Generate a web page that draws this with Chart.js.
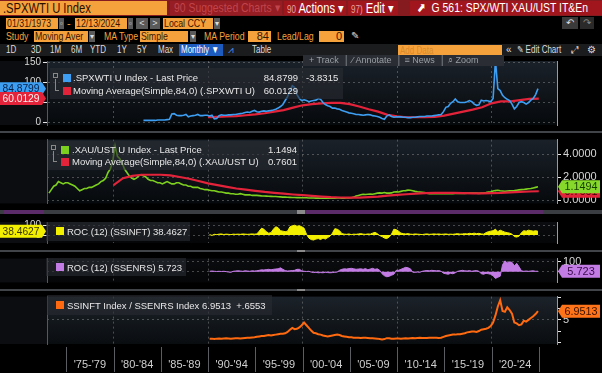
<!DOCTYPE html>
<html>
<head>
<meta charset="utf-8">
<title>G 561: SPX/WTI XAU/UST IT&amp;En</title>
<script src="https://cdn.jsdelivr.net/npm/chart.js@4.4.1/dist/chart.umd.min.js"></script>
<style>
  html, body { margin: 0; padding: 0; background: #000; }
  body { position: relative; width: 602px; height: 373px; overflow: hidden;
         font-family: "Liberation Sans", Arial, sans-serif; }
  .a { position: absolute; white-space: nowrap; box-sizing: border-box; overflow: visible; }
  .n { display: inline-block; transform: scaleX(0.8); transform-origin: 0 50%; }
  canvas { position: absolute; left: 0; }
  .ob { background: #f6a23c; color: #3a1500; font-size: 11px; line-height: 11px; padding-left: 1px; }
  .ot { color: #f6a23c; font-size: 11px; line-height: 11px; }
  .dd { background: #5a5a5a; color: #ddd; font-size: 8px; line-height: 11px; text-align: center; }
  .tb { color: #dcdcdc; font-size: 10px; line-height: 12px; }
  .lg { background: rgba(40,44,50,0.62); }
  .lt { color: #e8e8e8; font-size: 9.5px; line-height: 11px; }
  .sq { width: 8px; height: 8px; }
  .sep { background: #414449; }
</style>
</head>
<body>

<!-- title row -->
<div class="a" style="left:0;top:0;width:602px;height:16px;background:#851a1f"></div>
<div class="a" style="left:0;top:1px;width:167px;height:14px;background:#f6a23c;color:#2a0e00;font-size:14px;line-height:14px;padding-left:3px"><span class="n">.SPXWTI U Index</span></div>
<div class="a" style="left:170px;top:1px;width:112px;height:14px;background:#951d23;color:#c2444a;font-size:13px;line-height:14px;padding-left:4px"><span class="n">90 Suggested Charts ▾</span></div>
<div class="a" style="left:284px;top:1px;width:62px;height:14px;background:#a1161d;color:#fff;font-size:14px;line-height:14px;padding-left:3px"><span class="n"><span style="font-size:10px;color:#e9a3a3">90</span> Actions ▾</span></div>
<div class="a" style="left:348px;top:1px;width:50px;height:14px;background:#a1161d;color:#fff;font-size:14px;line-height:14px;padding-left:3px"><span class="n"><span style="font-size:10px;color:#e9a3a3">97)</span> Edit ▾</span></div>
<div class="a" style="left:410px;top:1px;width:192px;height:14px;background:#a1161d;color:#fff;font-size:13px;line-height:14px;padding-left:7px"><span class="n">⬈ &nbsp;G 561: SPX/WTI XAU/UST IT&amp;En</span></div>

<!-- date row -->
<div class="a ob" style="left:6px;top:18px;width:52px;height:11px"><span class="n">01/31/1973</span></div>
<div class="a dd" style="left:59px;top:18px;width:5px;height:11px">▫</div>
<div class="a ot" style="left:67px;top:18px">-</div>
<div class="a ob" style="left:75px;top:18px;width:52px;height:11px"><span class="n">12/13/2024</span></div>
<div class="a dd" style="left:128px;top:18px;width:5px;height:11px">▫</div>
<div class="a dd" style="left:136px;top:18px;width:12px;height:11px;font-size:9px">&lt;</div>
<div class="a dd" style="left:150px;top:18px;width:10px;height:11px;font-size:9px">&gt;</div>
<div class="a ob" style="left:163px;top:18px;width:50px;height:11px"><span class="n">Local CCY</span></div>
<div class="a dd" style="left:214px;top:18px;width:6px;height:11px">▾</div>
<div class="a" style="left:562px;top:17px;width:16px;height:12px;background:#3a3a3a;color:#ddd;font-size:10px;line-height:12px;text-align:center">↶</div>
<div class="a" style="left:580px;top:17px;width:14px;height:12px;background:#2a2a2a;color:#888;font-size:10px;line-height:12px;text-align:center">↷</div>

<!-- study row -->
<div class="a ot" style="left:6px;top:31px"><span class="n">Study</span></div>
<div class="a ob" style="left:34px;top:31px;width:54px;height:11px"><span class="n">Moving Aver</span></div>
<div class="a dd" style="left:89px;top:31px;width:6px;height:11px">▾</div>
<div class="a ot" style="left:104px;top:31px"><span class="n">MA Type</span></div>
<div class="a ob" style="left:140px;top:31px;width:48px;height:11px"><span class="n">Simple</span></div>
<div class="a dd" style="left:190px;top:31px;width:6px;height:11px">▾</div>
<div class="a ot" style="left:204px;top:31px"><span class="n">MA Period</span></div>
<div class="a ob" style="left:248px;top:31px;width:23px;height:11px;text-align:right;padding-right:2px">84</div>
<div class="a ot" style="left:277px;top:31px"><span class="n">Lead/Lag</span></div>
<div class="a ob" style="left:319px;top:31px;width:25px;height:11px;text-align:right;padding-right:2px">0</div>
<div class="a" style="left:351px;top:30px;color:#ddd;font-size:10px">✎</div>

<!-- toolbar row -->
<div class="a" style="left:0;top:44px;width:602px;height:12px;background:#1b1c1e"></div>
<div class="a tb" style="left:6px;top:44px"><span class="n">1D</span></div>
<div class="a tb" style="left:31px;top:44px"><span class="n">3D</span></div>
<div class="a tb" style="left:50px;top:44px"><span class="n">1M</span></div>
<div class="a tb" style="left:71px;top:44px"><span class="n">6M</span></div>
<div class="a tb" style="left:90px;top:44px"><span class="n">YTD</span></div>
<div class="a tb" style="left:117px;top:44px"><span class="n">1Y</span></div>
<div class="a tb" style="left:137px;top:44px"><span class="n">5Y</span></div>
<div class="a tb" style="left:158px;top:44px"><span class="n">Max</span></div>
<div class="a tb" style="left:179px;top:44px;width:44px;height:12px;background:#1d5bbf;color:#fff;padding-left:2px"><span class="n">Monthly ▼</span></div>
<div class="a tb" style="left:228px;top:44px;color:#4a8ee8">⩘</div>
<div class="a tb" style="left:252px;top:44px"><span class="n">Table</span></div>
<div class="a" style="left:398px;top:45px;width:104px;height:11px;background:#f6a23c;color:#d88a2a;font-size:10px;line-height:11px;padding-left:2px"><span class="n">Add Data</span></div>
<div class="a tb" style="left:506px;top:44px">«</div>
<div class="a tb" style="left:517px;top:44px"><span class="n">✎ Edit Chart</span></div>
<div class="a tb" style="left:571px;top:44px">⤢</div>
<div class="a tb" style="left:587px;top:44px">⚙</div>

<canvas id="c1" width="602" height="80" style="top:53px"></canvas>
<canvas id="c2" width="602" height="81" style="top:131px"></canvas>
<canvas id="c3" width="602" height="37" style="top:214px"></canvas>
<canvas id="c4" width="602" height="41" style="top:250px"></canvas>
<canvas id="c5" width="602" height="85" style="top:288px"></canvas>

<!-- panel separators -->
<div class="a sep" style="left:0;top:131px;width:602px;height:2px"></div>
<div class="a" style="left:0;top:210px;width:602px;height:4px;background:#3a3d42"></div>
<div class="a" style="left:4px;top:210px;width:40px;height:4px;background:#5b2a68"></div>
<div class="a" style="left:297px;top:210px;width:246px;height:4px;background:#5b2a68"></div>
<div class="a" style="left:297px;top:210px;width:8px;height:4px;background:#8a8a8a"></div>
<div class="a sep" style="left:0;top:250px;width:602px;height:2px"></div>
<div class="a" style="left:297px;top:250px;width:8px;height:2px;background:#8a8a8a"></div>
<div class="a sep" style="left:0;top:289px;width:602px;height:2px"></div>
<div class="a" style="left:297px;top:289px;width:8px;height:2px;background:#8a8a8a"></div>

<!-- track bar -->
<div class="a" style="left:303px;top:55px;width:201px;height:11px;background:#2a2e34;color:#9a9fa6;font-size:9px;line-height:11px;padding-left:6px">+ Track &nbsp;│ ⁄ Annotate &nbsp;│ ≡ News &nbsp;│ ⌕ Zoom</div>

<!-- legends -->
<div class="a lg" style="left:50px;top:68px;width:293px;height:31px"></div>
<div class="a" style="left:53px;top:73px;width:5px;height:5px;border:1px solid #888"></div>
<div class="a" style="left:55px;top:79px;width:4px;height:12px;border-left:1px solid #888;border-bottom:1px solid #888"></div>
<div class="a sq" style="left:63px;top:74px;background:#3d9ef2"></div>
<div class="a lt" style="left:73px;top:72px">.SPXWTI U Index - Last Price</div>
<div class="a lt" style="left:248px;top:72px;width:50px;text-align:right">84.8799</div>
<div class="a lt" style="left:306px;top:72px">-3.8315</div>
<div class="a sq" style="left:63px;top:87px;background:#e3233a"></div>
<div class="a lt" style="left:73px;top:85px">Moving Average(Simple,84,0) (.SPXWTI U)</div>
<div class="a lt" style="left:248px;top:85px;width:50px;text-align:right">60.0129</div>

<div class="a lg" style="left:48px;top:141px;width:251px;height:29px"></div>
<div class="a" style="left:51px;top:145px;width:5px;height:5px;border:1px solid #888"></div>
<div class="a" style="left:53px;top:151px;width:4px;height:11px;border-left:1px solid #888;border-bottom:1px solid #888"></div>
<div class="a sq" style="left:61px;top:146px;background:#7ccf1e"></div>
<div class="a lt" style="left:72px;top:144px">.XAU/UST U Index - Last Price</div>
<div class="a lt" style="left:247px;top:144px;width:50px;text-align:right">1.1494</div>
<div class="a sq" style="left:61px;top:158px;background:#e3233a"></div>
<div class="a lt" style="left:72px;top:156px">Moving Average(Simple,84,0) (.XAU/UST U)</div>
<div class="a lt" style="left:247px;top:156px;width:50px;text-align:right">0.7601</div>

<div class="a lg" style="left:46px;top:222px;width:144px;height:19px"></div>
<div class="a sq" style="left:56px;top:227px;background:#f2ef00"></div>
<div class="a lt" style="left:67px;top:226px">ROC (12) (SSINFT) 38.4627</div>

<div class="a lg" style="left:46px;top:258px;width:140px;height:18px"></div>
<div class="a sq" style="left:56px;top:263px;background:#c27ce4"></div>
<div class="a lt" style="left:67px;top:262px">ROC (12) (SSENRS) 5.723</div>

<div class="a lg" style="left:47px;top:295px;width:225px;height:20px"></div>
<div class="a sq" style="left:56px;top:301px;background:#ff6a10"></div>
<div class="a lt" style="left:67px;top:300px">SSINFT Index / SSENRS Index 6.9513 &nbsp;+.6553</div>

<script>
// ---- time axis ----
var xMin = 1972.96, xMax = 2026.93;
var gridYears = [1980, 1990, 2000, 2010, 2020];
var sepYears = [1975, 1980, 1985, 1990, 1995, 2000, 2005, 2010, 2015, 2020, 2025];
var periodStarts = [1975, 1980, 1985, 1990, 1995, 2000, 2005, 2010, 2015, 2020];
var periodLabels = ["'75-'79", "'80-'84", "'85-'89", "'90-'94", "'95-'99", "'00-'04", "'05-'09", "'10-'14", "'15-'19", "'20-'24"];

// ---- .SPXWTI U Index, quarterly from 1983 ----
var spxStart = 1983;
var spxVals = [
  5,5,5,5, 5,5,6,6, 6,6,7,8, 21,22,18,17, 17,18,20,14, 16,17,18,20, 17,17,18,18,
  16,18,9,10, 17,19,18,18, 19,19,20,20, 21,22,23,25, 26,25,28,30, 27,26,28,29,
  28,29,30,31, 33,36,40,45, 55,65,80,92, 88,70,60,55, 57,55,52,54, 55,56,60,58,
  50,45,42,40, 36,36,34,33, 30,28,26,24, 23,22,20,20, 19,18,19,20, 19,17,16,15,
  13,10,8,16, 19,15,13,14, 14,14,13,13, 12,12,13,13, 14,15,15,15, 16,16,16,17,
  18,19,20,27, 38,40,48,52, 59,52,50,50, 50,52,55,52, 46,43,44,56, 54,55,54,52,
  60,155,85,80, 68,62,58,55, 46,34,40,50, 52,50,46,50, 56,60,70,84.8799
];
// 84-month simple moving average, yearly from 1990
var spxMaStart = 1990;
var spxMaVals = [13,14,15,16,18,20,23,27,31,37,43,46,48,49,49,46,40,33,27,19,15,13,13,13,14,17,22,27,32,38,48,53,53,56,59,60.0129];

// ---- .XAU/UST U Index, quarterly from 1973 ----
var xauStart = 1973;
var xauVals = [
  0.6,0.9,1.2,1.3, 1.6,1.5,1.4,1.5, 1.5,1.4,1.3,1.2, 1.0,0.8,0.9,1.0, 1.0,1.1,1.1,1.2,
  1.3,1.4,1.6,1.7, 1.9,2.4,2.7,3.4, 4.7,3.8,3.6,3.2, 2.7,2.4,2.1,1.9, 1.8,1.9,2.1,2.2,
  2.1,2.0,1.8,1.7, 1.7,1.6,1.5,1.5, 1.4,1.5,1.6,1.5, 1.4,1.4,1.5,1.5, 1.4,1.3,1.3,1.2,
  1.2,1.1,1.1,1.1, 1.0,0.95,0.9,0.9, 0.85,0.8,0.8,0.75, 0.7,0.7,0.65,0.6, 0.6,0.55,0.55,0.5,
  0.5,0.55,0.5,0.45, 0.45,0.45,0.4,0.4, 0.4,0.38,0.36,0.35, 0.34,0.33,0.32,0.3, 0.3,0.28,0.27,0.25,
  0.25,0.24,0.23,0.22, 0.22,0.21,0.22,0.2, 0.2,0.19,0.18,0.18, 0.17,0.16,0.16,0.15, 0.15,0.15,0.16,0.16,
  0.16,0.16,0.17,0.17, 0.16,0.16,0.17,0.18, 0.2,0.25,0.35,0.4, 0.45,0.5,0.48,0.5, 0.52,0.5,0.55,0.6,
  0.62,0.6,0.65,0.6, 0.6,0.62,0.7,0.72, 0.7,0.75,0.8,0.82, 0.86,0.85,0.8,0.75, 0.72,0.7,0.68,0.65,
  0.6,0.55,0.56,0.55, 0.55,0.56,0.55,0.55, 0.55,0.56,0.54,0.55, 0.56,0.58,0.6,0.58, 0.58,0.6,0.6,0.6,
  0.6,0.6,0.58,0.6, 0.62,0.65,0.7,0.72, 0.78,0.82,0.85,0.8, 0.78,0.76,0.78,0.8, 0.8,0.82,0.85,0.88,
  0.9,0.92,0.95,0.98, 1.0,1.05,1.1,1.1494
];
var xauMaStart = 1980;
var xauMaVals = [1.3,1.9,2.1,2.2,2.2,2.2,2.15,2.0,1.85,1.65,1.45,1.3,1.15,1.0,0.9,0.8,0.7,0.62,0.55,0.48,0.42,0.36,0.3,0.25,0.22,0.2,0.2,0.25,0.3,0.38,0.45,0.5,0.55,0.6,0.62,0.63,0.62,0.6,0.58,0.58,0.6,0.62,0.66,0.7,0.74,0.7601];

// ---- ROC (12) SSINFT, quarterly from 1990 ----
var rocStart = 1990;
var rocInft = [
  5,-3,8,5, 10,12,6,10, 8,5,10,8, 10,8,12,10, 8,10,12,10, 12,40,70,60, 35,20,25,60,
  85,75,45,40, 35,40,85,95, 100,90,95,85, 70,10,-30,-45, -50,-40,-35,-45, -30,-40,-25,-10,
  20,65,60,45, 15,10,8,12, 5,10,8,12, 15,10,8,12, 10,20,28,15, -5,-15,-30,-35,
  -20,10,60,55, 40,20,15,12, 15,10,8,12, 10,8,5,10, 12,8,10,12, 10,12,8,10, 12,8,10,8,
  12,15,10,12, 15,12,18,15, 20,15,18,12, 10,25,35,40, 45,60,35,50, 40,30,25,20,
  10,-15,-20,-10, 25,45,40,50, 45,40,45,38.4627
];
// ---- ROC (12) SSENRS, quarterly from 1990 ----
var rocEnrs = [
  5,8,5,3, 5,3,5,2, -3,-5,5,8, 10,8,5,10, 8,5,10,8, 10,15,20,18, 22,25,20,25,
  28,30,40,25, 12,8,10,12, 15,25,25,10, 5,3,5,-3, -8,-5,-10,-8, -10,-5,-8,-10,
  -8,-5,-3,15, 25,30,28,32, 35,30,25,28, 30,25,32,20, 28,35,25,30, 15,-20,-40,-50,
  -45,-35,-25,15, 15,25,35,45, 40,30,-5,-5, -3,-5,5,10, 12,10,15,12, 10,12,5,-15,
  -20,-25,-15,-20, -10,5,10,15, 10,8,12,5, 10,12,5,-20, -25,-15,-20,-25, -40,-67,-55,-45,
  70,110,90,100, 95,60,85,50, 10,5,8,5, 8,10,5,5.723
];
// ---- SSINFT Index / SSENRS Index, quarterly from 1990 ----
var ratioVals = [
  0.8,0.8,0.7,0.8, 0.85,0.8,0.85,0.9, 0.85,0.8,0.85,0.9, 0.9,0.85,0.9,0.95, 1.0,1.0,1.05,1.1,
  1.2,1.3,1.4,1.4, 1.5,1.6,1.5,1.6, 1.7,1.8,1.9,1.9, 2.0,2.3,2.8,3.2, 2.9,3.0,3.3,3.8,
  4.4,3.8,3.2,2.6, 2.1,2.0,1.8,1.7, 1.5,1.4,1.3,1.4, 1.5,1.6,1.7,1.6, 1.4,1.3,1.2,1.1,
  1.1,1.0,1.0,1.0, 0.95,1.0,1.0,0.95, 0.9,0.9,0.85,0.8, 0.7,0.6,0.7,0.9, 0.9,0.8,0.8,0.85,
  0.85,0.8,0.85,0.9, 0.85,0.9,0.95,0.9, 0.95,1.0,0.95,0.95, 0.95,1.0,1.0,1.0, 1.0,0.95,1.0,1.2,
  1.4,1.5,1.6,1.7, 1.7,1.8,1.8,1.9, 2.0,2.2,2.3,2.4, 2.4,2.3,2.5,2.8, 2.9,3.0,3.2,3.6,
  4.4,6.0,8.0,9.4, 7.0,6.8,7.8,7.2, 6.4,4.4,4.2,3.8, 4.0,4.8,4.6,5.0, 5.4,5.8,6.3,6.9513
];

function quarterly(start, vals) {
  return vals.map(function (v, i) { return { x: start + (i * 3 + 2) / 12, y: v }; });
}
function yearly(start, vals) {
  return vals.map(function (v, i) { return { x: start + i, y: v }; });
}

Chart.defaults.font.family = '"Liberation Sans", Arial, sans-serif';
Chart.defaults.font.size = 10;
Chart.defaults.color = '#d6d6d6';
Chart.defaults.animation = false;

var dotted = 'rgba(150,150,150,0.45)';

// dark gradient behind each plot area
var panelBg = {
  id: 'panelBg',
  beforeDraw: function (chart, args, opts) {
    var a = chart.chartArea, c = chart.ctx;
    var g = c.createLinearGradient(0, a.top, 0, a.bottom);
    g.addColorStop(0, opts.top || '#1a2129');
    g.addColorStop(1, opts.bottom || '#06090c');
    c.save();
    c.fillStyle = '#0b0d10';
    c.fillRect(0, a.top, a.left, a.bottom - a.top);
    c.fillStyle = g;
    c.fillRect(a.left, a.top, a.right - a.left, a.bottom - a.top);
    c.restore();
  }
};

// last value tags at the axis
var valueTags = {
  id: 'valueTags',
  afterDraw: function (chart, args, opts) {
    var c = chart.ctx, a = chart.chartArea;
    (opts.items || []).forEach(function (t) {
      var y = chart.scales[t.axis].getPixelForValue(t.value);
      var h = 13, w = t.w || 38, tip, x0, x1;
      c.save();
      c.fillStyle = t.bg;
      c.beginPath();
      if (t.side === 'left') {
        tip = a.left - 1; x1 = tip - 4; x0 = x1 - w;
        c.moveTo(tip, y); c.lineTo(x1, y - h / 2); c.lineTo(x0, y - h / 2);
        c.lineTo(x0, y + h / 2); c.lineTo(x1, y + h / 2);
      } else {
        tip = a.right + 1; x0 = tip + 4; x1 = x0 + w;
        c.moveTo(tip, y); c.lineTo(x0, y - h / 2); c.lineTo(x1, y - h / 2);
        c.lineTo(x1, y + h / 2); c.lineTo(x0, y + h / 2);
      }
      c.closePath();
      c.fill();
      c.fillStyle = t.fg;
      c.font = '11px "Liberation Sans", Arial, sans-serif';
      c.textAlign = 'center';
      c.textBaseline = 'middle';
      c.fillText(t.value.toFixed(t.dec), (x0 + x1) / 2, y + 0.5, w - 5);
      c.restore();
    });
  }
};

// separators between the period labels
var periodSeps = {
  id: 'periodSeps',
  afterDraw: function (chart) {
    var c = chart.ctx, a = chart.chartArea, s = chart.scales.x;
    c.save();
    c.strokeStyle = '#5a5d62';
    c.lineWidth = 1;
    sepYears.forEach(function (yr) {
      var px = Math.round(s.getPixelForValue(yr)) + 0.5;
      c.beginPath(); c.moveTo(px, a.bottom + 3); c.lineTo(px, chart.height - 1); c.stroke();
    });
    c.restore();
  }
};

function xAxes(showLabels) {
  var axes = {
    x: { type: 'linear', min: xMin, max: xMax, display: false },
    xg: {
      type: 'linear', min: xMin, max: xMax, position: 'bottom',
      ticks: { display: false },
      grid: { color: dotted, drawTicks: false },
      border: { display: false, dash: [2, 3] },
      afterBuildTicks: function (s) { s.ticks = gridYears.map(function (v) { return { value: v }; }); },
      afterFit: function (s) { s.height = 0; }
    }
  };
  if (showLabels) {
    axes.x = {
      type: 'linear', min: xMin, max: xMax, position: 'bottom',
      grid: { display: false }, border: { display: false },
      ticks: {
        autoSkip: false, maxRotation: 0, padding: 6, color: '#d0d0d0', font: { size: 11 },
        callback: function (v, i) { return periodLabels[i]; }
      },
      afterBuildTicks: function (s) { s.ticks = periodStarts.map(function (v) { return { value: v + 2.5 }; }); },
      afterFit: function (s) { s.height = 29; }
    };
  }
  return axes;
}

function yAxis(pos, min, max, ticks, labelFn, gridOn, fontSize) {
  return {
    type: 'linear', position: pos, min: min, max: max,
    grid: { drawOnChartArea: gridOn, color: dotted, tickColor: '#e6e6e6', tickLength: 4 },
    border: { display: true, color: pos === 'right' ? '#9a9a9a' : '#55585d', dash: [2, 3] },
    ticks: { autoSkip: false, padding: 2, color: '#d6d6d6', font: { size: fontSize || 10 }, callback: labelFn },
    afterBuildTicks: function (s) { s.ticks = ticks.map(function (v) { return { value: v }; }); },
    afterFit: function (s) { s.width = pos === 'left' ? 47 : 45; }
  };
}

function lineSet(data, color, width, yId, fill) {
  return {
    data: data, borderColor: color, backgroundColor: color, borderWidth: width,
    pointRadius: 0, tension: 0, fill: fill ? 'origin' : false, xAxisID: 'x', yAxisID: yId
  };
}

function panel(id, datasets, scales, pad, bg, tags, extra) {
  return new Chart(document.getElementById(id), {
    type: 'line',
    data: { datasets: datasets },
    options: {
      responsive: false,
      parsing: false,
      layout: { padding: pad },
      scales: scales,
      plugins: {
        legend: { display: false }, tooltip: { enabled: false },
        panelBg: bg, valueTags: { items: tags }
      }
    },
    plugins: [panelBg, valueTags].concat(extra || [])
  });
}

function none() { return ''; }

// panel 1: .SPXWTI with its moving average
var s1 = xAxes(false);
s1.y = yAxis('left', -6.5, 154.3, [0, 50, 100, 150], function (v) { return v; }, true);
s1.yr = yAxis('right', -6.5, 154.3, [], none, false);
panel('c1', [
  lineSet(quarterly(spxStart, spxVals), '#3d9ef2', 1.6, 'y'),
  lineSet(yearly(spxMaStart, spxMaVals), '#e3233a', 2.2, 'y')
], s1, { top: 3, bottom: 3 }, {}, [
  { axis: 'y', value: 84.8799, dec: 4, side: 'left', bg: '#3d9ef2', fg: '#06204a', w: 42 },
  { axis: 'y', value: 60.0129, dec: 4, side: 'left', bg: '#e3233a', fg: '#fff2f2', w: 42 }
]);

// panel 2: .XAU/UST with its moving average
var s2 = xAxes(false);
s2.yl = yAxis('left', -0.296, 5.26, [], none, false);
s2.y = yAxis('right', -0.296, 5.26, [0, 2, 4], function (v) { return v.toFixed(4); }, true, 11);
panel('c2', [
  lineSet(yearly(xauMaStart, xauMaVals), '#e3233a', 2.2, 'y'),
  lineSet(quarterly(xauStart, xauVals), '#7ccf1e', 1.6, 'y')
], s2, { top: 3, bottom: 3 }, {}, [
  { axis: 'y', value: 0.7601, dec: 4, side: 'right', bg: '#e3233a', fg: '#3a0008' },
  { axis: 'y', value: 1.1494, dec: 4, side: 'right', bg: '#86d82a', fg: '#163d00' }
]);

// panel 3: ROC (12) SSINFT
var s3 = xAxes(false);
s3.y = yAxis('left', -80, 133, [0, 100], function (v) { return v; }, true);
s3.yr = yAxis('right', -80, 133, [], none, false);
panel('c3', [
  lineSet(quarterly(rocStart, rocInft), '#f2ef00', 1, 'y', true)
], s3, { top: 3, bottom: 2 }, { top: '#0a0c0f', bottom: '#050607' }, [
  { axis: 'y', value: 38.4627, dec: 4, side: 'left', bg: '#f2ef00', fg: '#3a3600', w: 42 }
]);

// panel 4: ROC (12) SSENRS
var s4 = xAxes(false);
s4.yl = yAxis('left', -107, 133, [], none, false);
s4.y = yAxis('right', -107, 133, [0, 100], function (v) { return v; }, true, 11);
panel('c4', [
  lineSet(quarterly(rocStart, rocEnrs), '#c27ce4', 1, 'y', true)
], s4, { top: 3, bottom: 2 }, { top: '#0a0c0f', bottom: '#050607' }, [
  { axis: 'y', value: 5.723, dec: 3, side: 'right', bg: '#c27ce4', fg: '#3a0a4a' }
]);

// panel 5: SSINFT / SSENRS ratio
var s5 = xAxes(true);
s5.yl = yAxis('left', -0.4, 10.2, [], none, false);
s5.y = yAxis('right', -0.4, 10.2, [0, 2.5, 5, 7.5, 10], function (v) { return v === 5 ? '5' : ''; }, false, 11);
s5.y.grid.drawOnChartArea = true;
s5.y.grid.color = function (ctx) { return ctx.tick && ctx.tick.value === 5 ? dotted : 'rgba(0,0,0,0)'; };
panel('c5', [
  lineSet(quarterly(rocStart, ratioVals), '#ff6a10', 2, 'y')
], s5, { top: 3 }, { top: '#1b2229', bottom: '#0a0d10' }, [
  { axis: 'y', value: 6.9513, dec: 4, side: 'right', bg: '#ff7418', fg: '#3b1200' }
], [periodSeps]);
</script>
</body>
</html>
